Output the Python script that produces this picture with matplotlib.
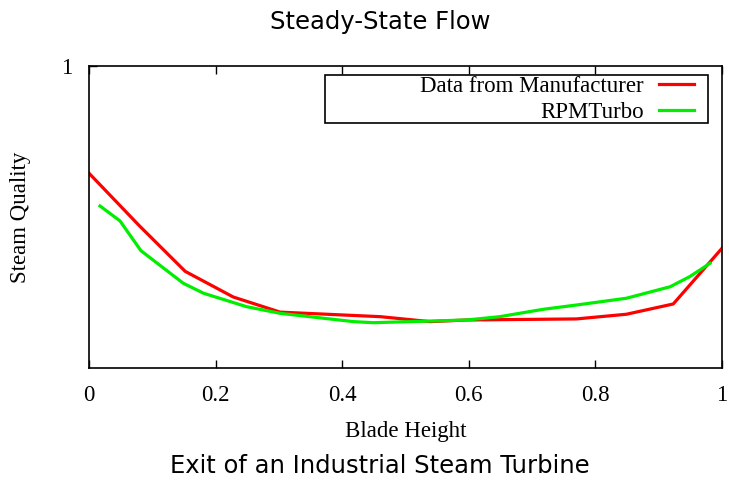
import matplotlib
matplotlib.use("Agg")
import matplotlib.pyplot as plt
from matplotlib.patches import Rectangle

# Data
x_manuf = [0.0, 0.08, 0.152, 0.228, 0.302, 0.46, 0.539, 0.597, 0.77, 0.849, 0.923, 1.0]
y_manuf = [0.929, 0.894, 0.864, 0.847, 0.837, 0.834, 0.8307, 0.8318, 0.8325, 0.8356, 0.8424, 0.8793]

x_rpm = [0.0174, 0.049, 0.082, 0.149, 0.181, 0.249, 0.302, 0.418, 0.449, 0.597, 0.649, 0.718, 0.77, 0.849, 0.918, 0.949, 0.981]
y_rpm = [0.9073, 0.8974, 0.8777, 0.8561, 0.8495, 0.8406, 0.8362, 0.8307, 0.830, 0.8318, 0.834, 0.8389, 0.8417, 0.8462, 0.8538, 0.8605, 0.8693]

x_ticks = [0, 0.2, 0.4, 0.6, 0.8, 1]
x_tick_labels = ["0", "0.2", "0.4", "0.6", "0.8", "1"]
y_ticks = [1]
y_tick_labels = ["1"]

serif = "Liberation Serif"
sans = "DejaVu Sans"
fs = 16.5

fig = plt.figure(figsize=(7.29, 4.8), dpi=100)
ax = fig.add_axes([89/729, 1-368/480, (722-89)/729, (368-66)/480])

ax.plot(x_manuf, y_manuf, color="#ff0000", lw=2.3, label="Data from Manufacturer")
ax.plot(x_rpm, y_rpm, color="#00ee00", lw=2.3, label="RPMTurbo")

ax.set_xlim(0, 1)
ax.set_ylim(0.8, 1.0)
ax.set_xticks(x_ticks)
ax.set_xticklabels(x_tick_labels, fontfamily=serif, fontsize=fs)
ax.set_yticks(y_ticks)
ax.set_yticklabels(y_tick_labels, fontfamily=serif, fontsize=fs)
ax.tick_params(direction="in", top=True, right=False, length=6, width=1)
ax.tick_params(axis="x", pad=12)
ax.tick_params(axis="y", pad=12)
for s in ax.spines.values():
    s.set_linewidth(1.2)

ax.set_xlabel("Blade Height", fontfamily=serif, fontsize=fs, labelpad=11)
ax.set_ylabel("Steam Quality", fontfamily=serif, fontsize=fs, labelpad=22)

# legend box (gnuplot style)
ax.add_patch(Rectangle((0.373, 0.811), 0.978-0.373, 0.159, transform=ax.transAxes,
                       fill=False, edgecolor="black", lw=1.2, zorder=5))
leg = ax.legend(loc="upper right", bbox_to_anchor=(0.956, 0.966), frameon=False,
                markerfirst=False, prop={"family": serif, "size": fs},
                handlelength=1.55, labelspacing=0.2, borderpad=0.0, borderaxespad=0.0,
                handletextpad=0.65)
for t in leg.get_texts():
    t.set_ha("right")
leg._legend_box.align = "right"

fig.text(0.521, 1-22/480, "Steady-State Flow", ha="center", va="center", fontfamily=sans, fontsize=17.5)
fig.text(0.521, 1-466/480, "Exit of an Industrial Steam Turbine", ha="center", va="center", fontfamily=sans, fontsize=17.5)

fig.savefig("out.png", dpi=100)
